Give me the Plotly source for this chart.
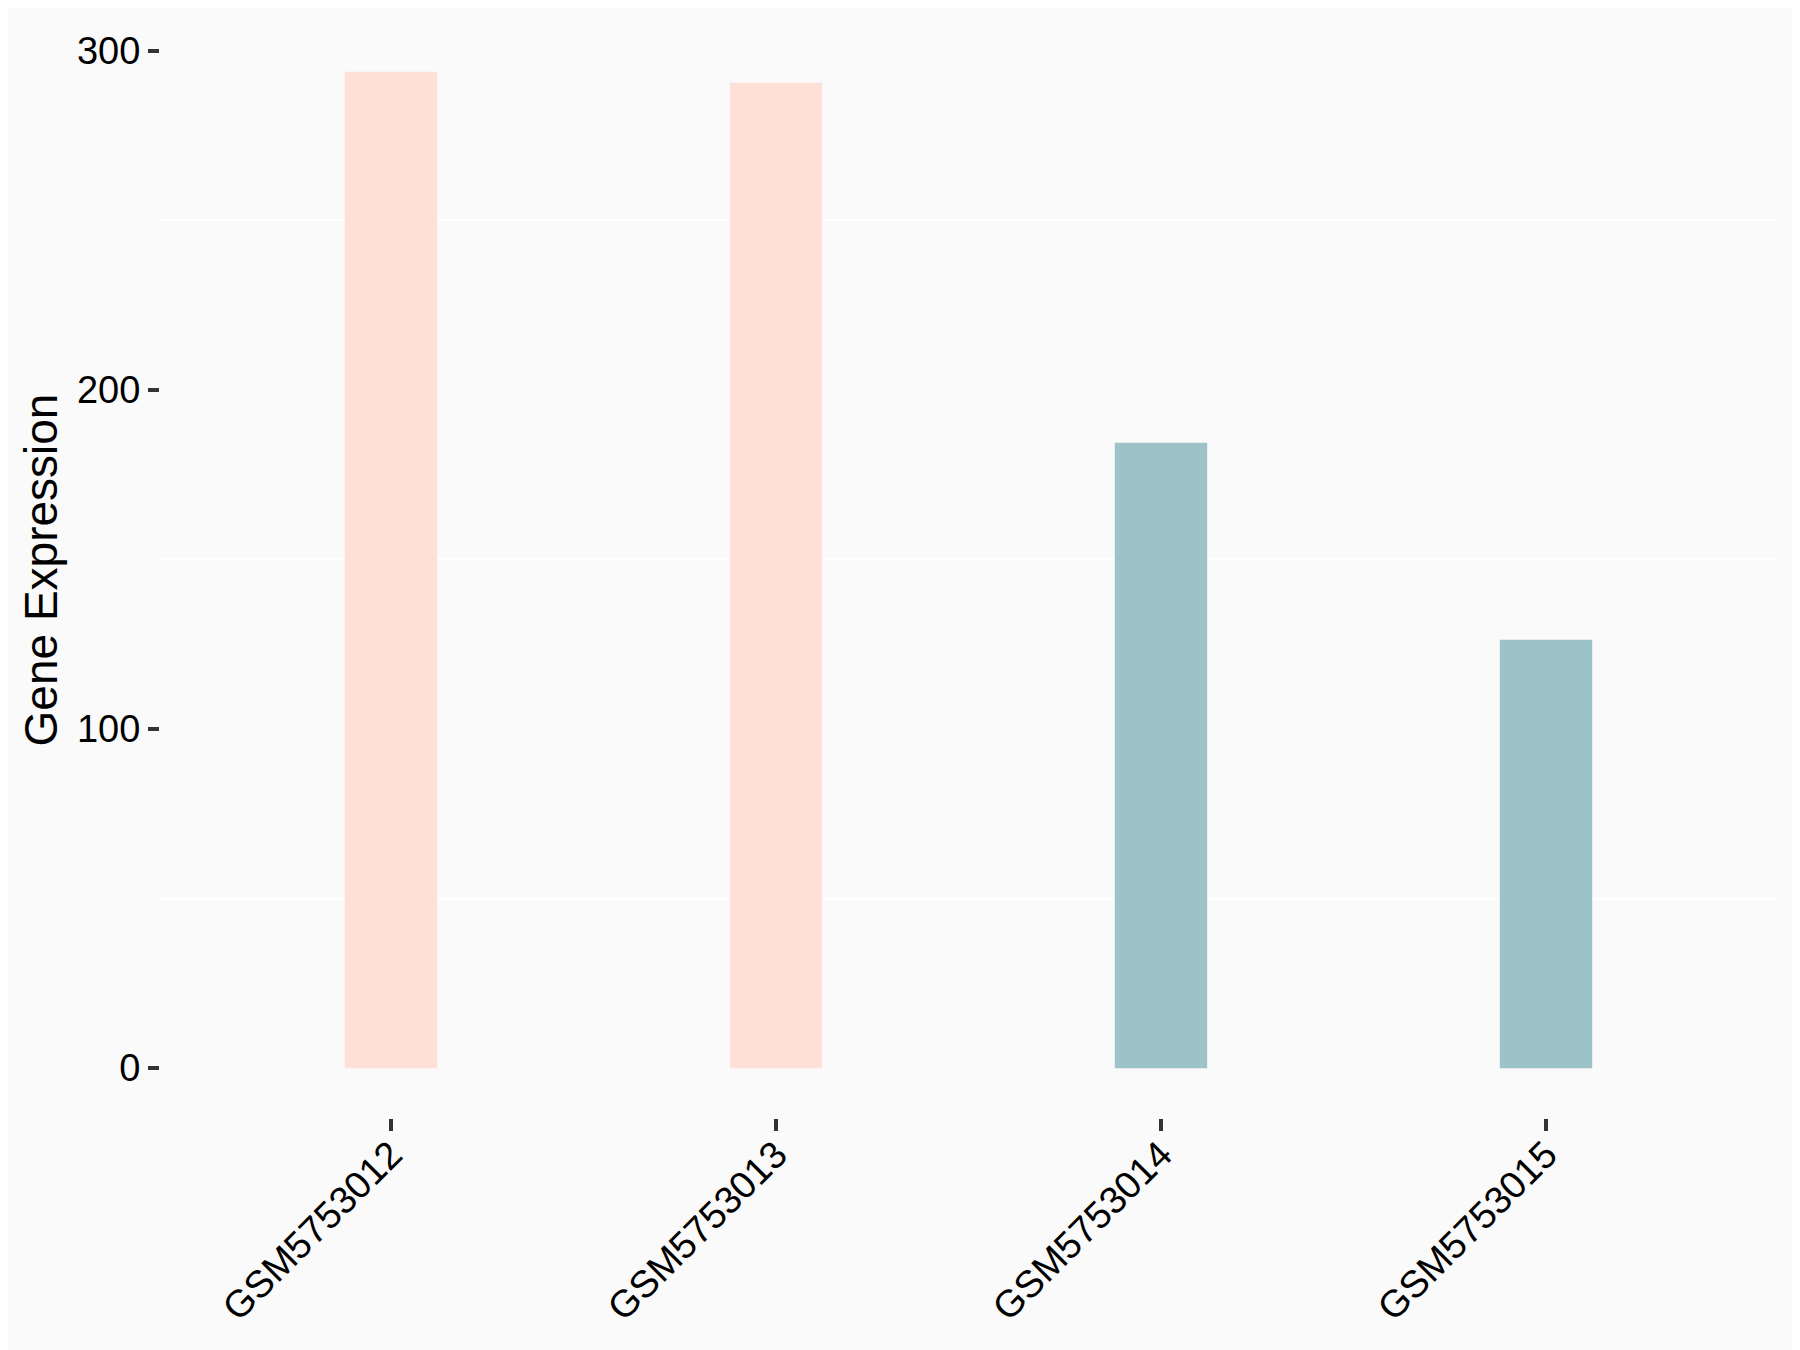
import plotly.graph_objects as go

# data
samples = ["GSM5753012", "GSM5753013", "GSM5753014", "GSM5753015"]
expression = [293.8, 290.6, 184.4, 126.3]
groups = ["A", "A", "B", "B"]

group_colors = {"A": "#FEE0D6", "B": "#9DC3C8"}

fig = go.Figure()
fig.add_trace(
    go.Bar(
        x=samples,
        y=expression,
        width=0.24,
        marker=dict(color=[group_colors[g] for g in groups], line=dict(width=0)),
        showlegend=False,
    )
)

ymax = max(expression)
# margins account for the 8px body margin of the html page
fig.update_layout(
    width=1800,
    height=1350,
    paper_bgcolor="#FAFAFA",
    plot_bgcolor="#FAFAFA",
    margin=dict(l=152, r=31, t=14, b=240),
    font=dict(family="Arial, Liberation Sans", size=38, color="black"),
    xaxis=dict(
        range=[-0.6, 3.6],
        showgrid=False,
        zeroline=False,
        showline=False,
        ticks="outside",
        ticklen=12,
        tickwidth=3.5,
        tickcolor="#333333",
        tickangle=-45,
        tickfont=dict(size=38),
        ticklabelstandoff=-14,
    ),
    yaxis=dict(
        range=[-0.05 * ymax, ymax * 1.05],
        tickvals=[0, 100, 200, 300],
        showgrid=False,
        zeroline=False,
        showline=False,
        ticks="outside",
        ticklen=11,
        tickwidth=3.5,
        tickcolor="#333333",
        tickfont=dict(size=38),
        ticklabelstandoff=0,
        minor=dict(
            tickvals=[50, 150, 250],
            showgrid=True,
            gridcolor="white",
            gridwidth=2,
            ticks="",
        ),
        title=dict(text="Gene Expression", font=dict(size=46), standoff=4),
    ),
)

fig.write_html("out.html")
